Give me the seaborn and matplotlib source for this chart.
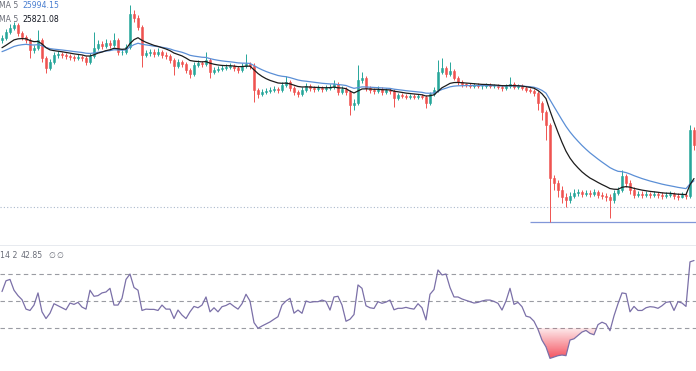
import numpy as np
import pandas as pd
import matplotlib
matplotlib.use("Agg")
import matplotlib.pyplot as plt
import seaborn as sns
from matplotlib.path import Path

# ---------------- data ----------------
prior_closes = [25820, 25840, 25850, 25830, 25880, 25900, 25920, 25950, 25980, 26000]

closes = [26020, 26080, 26120, 26150, 26070, 26030, 26000, 25900, 25920, 26000,
          25820, 25720, 25780, 25850, 25860, 25850, 25840, 25830, 25820, 25830,
          25820, 25780, 25840, 25920, 25960, 25940, 25970, 25950, 26000, 25880,
          25880, 25930, 26260, 26220, 26130, 25850, 25870, 25880, 25860, 25880,
          25850, 25840, 25800, 25740, 25780, 25760, 25700, 25660, 25750, 25770,
          25760, 25800, 25680, 25700, 25710, 25720, 25730, 25740, 25720, 25700,
          25740, 25760, 25740, 25500, 25460, 25480, 25490, 25500, 25510, 25500,
          25550, 25580, 25520, 25480, 25460, 25500, 25540, 25520, 25510, 25520,
          25510, 25520, 25530, 25560, 25480, 25510, 25480, 25350, 25370, 25600,
          25620, 25520, 25500, 25490, 25510, 25480, 25500, 25490, 25420, 25450,
          25440, 25430, 25440, 25430, 25440, 25430, 25370, 25460, 25500, 25680,
          25720, 25660, 25690, 25620, 25580, 25560, 25550, 25540, 25550, 25540,
          25540, 25550, 25540, 25540, 25530, 25520, 25540, 25560, 25530, 25540,
          25520, 25500, 25490, 25470, 25370, 25280, 25150, 24620, 24570, 24500,
          24430, 24400, 24440, 24470, 24480, 24460, 24470, 24460, 24480, 24450,
          24440, 24430, 24400, 24470, 24500, 24640, 24570, 24500, 24450, 24460,
          24450, 24460, 24450, 24460, 24450, 24440, 24450, 24460, 24440, 24430,
          24450, 24440, 25100, 24950]

highs = [26050, 26110, 26160, 26180, 26170, 26090, 26050, 26020, 25950, 26100,
         26020, 25840, 25810, 25880, 25890, 25880, 25870, 25860, 25850, 25860,
         25850, 25840, 25870, 26080, 26000, 25990, 26010, 26000, 26070, 26020,
         25910, 25960, 26350, 26300, 26250, 26150, 25900, 25910, 25910, 25920,
         25900, 25880, 25860, 25820, 25810, 25800, 25780, 25720, 25780, 25800,
         25790, 25880, 25820, 25730, 25740, 25750, 25760, 25770, 25760, 25740,
         25770, 25860, 25780, 25770, 25520, 25510, 25520, 25530, 25540, 25530,
         25580, 25640, 25600, 25540, 25500, 25530, 25570, 25560, 25540, 25550,
         25540, 25550, 25560, 25600, 25580, 25540, 25530, 25500, 25410, 25750,
         25680, 25640, 25540, 25520, 25540, 25530, 25520, 25520, 25510, 25470,
         25470, 25460, 25460, 25460, 25460, 25460, 25450, 25480, 25530, 25800,
         25820, 25740, 25780, 25710, 25640, 25600, 25570, 25570, 25570, 25570,
         25560, 25570, 25570, 25560, 25560, 25550, 25560, 25630, 25580, 25560,
         25560, 25540, 25520, 25510, 25490, 25390, 25300, 25170, 24650, 24600,
         24540, 24470, 24480, 24510, 24510, 24500, 24500, 24500, 24510, 24500,
         24480, 24470, 24460, 24500, 24530, 24700, 24660, 24600, 24530, 24490,
         24490, 24490, 24480, 24490, 24480, 24480, 24480, 24490, 24480, 24470,
         24480, 24480, 25150, 25130]

lows = [25970, 26000, 26060, 26100, 26040, 26000, 25970, 25820, 25870, 25900,
        25780, 25670, 25700, 25760, 25820, 25820, 25810, 25800, 25790, 25800,
        25790, 25750, 25760, 25820, 25900, 25910, 25920, 25920, 25930, 25850,
        25850, 25860, 25910, 26180, 26100, 25730, 25830, 25840, 25830, 25840,
        25820, 25810, 25770, 25650, 25720, 25730, 25670, 25620, 25640, 25730,
        25730, 25740, 25620, 25660, 25680, 25690, 25700, 25710, 25690, 25670,
        25680, 25720, 25710, 25380, 25420, 25440, 25460, 25470, 25480, 25470,
        25480, 25530, 25490, 25450, 25430, 25440, 25480, 25490, 25480, 25490,
        25480, 25490, 25500, 25510, 25450, 25460, 25450, 25250, 25300, 25350,
        25570, 25490, 25470, 25460, 25470, 25450, 25460, 25460, 25330, 25400,
        25420, 25410, 25410, 25410, 25410, 25410, 25320, 25350, 25440, 25480,
        25660, 25630, 25640, 25600, 25550, 25530, 25530, 25520, 25520, 25520,
        25510, 25520, 25520, 25520, 25510, 25490, 25500, 25520, 25510, 25510,
        25500, 25480, 25470, 25440, 25300, 25200, 25000, 24180, 24500, 24430,
        24370, 24330, 24370, 24420, 24440, 24430, 24440, 24430, 24440, 24420,
        24410, 24390, 24220, 24370, 24450, 24480, 24530, 24460, 24420, 24430,
        24420, 24430, 24420, 24430, 24420, 24410, 24420, 24430, 24410, 24400,
        24420, 24410, 24420, 24900]

rsi_values = [57, 65, 66, 58, 54, 51, 44, 43, 47, 56,
              42, 37, 41, 48, 46.5, 45, 43.5, 48.5, 47.5, 49,
              45.5, 44, 58, 53.5, 54, 56, 56.7, 59.4, 47, 47,
              52, 66, 70, 60, 58, 43, 44, 43.8, 43.8, 43,
              47, 44, 44, 37, 43.3, 39.6, 37, 42, 46, 45,
              47, 53, 42, 45, 42, 45.8, 46.7, 48.3, 46, 44,
              48, 55, 50, 34, 29.8, 31.5, 33, 34.5, 36.5, 38.4,
              47, 50, 52, 41, 43.3, 40.9, 50, 49, 49.5, 49.5,
              50.7, 49.7, 43.3, 53, 53.5, 47, 35, 36.5, 40, 61.9,
              59.4, 46.5, 45, 44.5, 49.5, 48.3, 49.2, 50.7, 43.5, 44.6,
              44.6, 45.3, 44.5, 44, 48, 45, 36, 55, 58.5, 73,
              69.3, 70, 60, 53, 53, 51.5, 50.5, 49.5, 48.5, 49,
              50, 50.7, 50.7, 49.7, 48.3, 43.3, 50, 59.4, 47.5, 49,
              45.8, 38.8, 38, 35, 29, 21, 16, 7.5, 8.5, 9.5,
              10, 9.5, 21.1, 22, 24.5, 27, 28.2, 26, 25, 32.5,
              34.3, 33, 28, 39, 48, 56, 55.5, 42, 46, 43,
              43, 45, 45.8, 45.5, 44.6, 46.5, 49, 49.5, 43, 49.5,
              48.5, 46, 79, 80]

rsi_levels = [70, 50, 30]
fast_ma_text = "25994.15"
slow_ma_text = "25821.08"
ma_name = "MA 5"
rsi_name = "14 2"
rsi_value_text = "42.85"
na_text = "\u2205"
dotted_level = 24330
low_line_level = 24180
low_line_start = 132

# ---------------- style ----------------
sns.set_theme(style="white")
plt.rcParams["font.family"] = ["DejaVu Sans"]

W, H = 696, 371
fig = plt.figure(figsize=(W / 100, H / 100), dpi=100)
fig.patch.set_facecolor("white")
ax = fig.add_axes([0, 1 - 245 / H, 1, 245 / H])
ax_r = fig.add_axes([0, 0, 1, 126 / H])

n0 = len(prior_closes)
all_close = pd.Series(prior_closes + closes, dtype=float)
ema_fast = all_close.ewm(span=12, adjust=False).mean().iloc[n0:].to_numpy()
ema_slow = all_close.ewm(span=24, adjust=False).mean().iloc[n0:].to_numpy()
opens = all_close.shift(1).iloc[n0:].to_numpy()
c = np.array(closes, dtype=float)
hi = np.maximum.reduce([np.array(highs, float), opens, c])
lo = np.minimum.reduce([np.array(lows, float), opens, c])
idx = np.arange(len(closes))

UP, DN = "#26a69a", "#ef5350"
cols = np.where(c >= opens, UP, DN)

ax.vlines(idx, lo, hi, colors=cols, lw=0.7, zorder=2)
body_bottom = np.minimum(opens, c)
body_h = np.abs(c - opens)
ax.bar(idx, body_h, bottom=body_bottom, width=0.55, color=cols,
       edgecolor=cols, linewidth=0.4, zorder=3)

sns.lineplot(x=idx, y=ema_slow, ax=ax, color="#5b8fd6", lw=0.9, zorder=4)
sns.lineplot(x=idx, y=ema_fast, ax=ax, color="#1c1c1c", lw=0.9, zorder=5)

ax.axhline(dotted_level, color="#aab8cc", ls=(0, (1, 2)), lw=0.8, zorder=1)
ax.hlines(low_line_level, xmin=low_line_start, xmax=len(closes), color="#8197d8",
          lw=0.9, zorder=1)

ax.set_xlim(-0.5, len(closes) - 0.5)
ax.set_ylim(23950, 26400)
ax.axis("off")

# ---------------- RSI ----------------
rsi = np.array(rsi_values, dtype=float)
for lvl in rsi_levels:
    ax_r.axhline(lvl, color="#9a9ca3", ls=(0, (4, 3)), lw=0.8, zorder=1)

poly = ax_r.fill_between(idx, rsi, 30, where=rsi < 30, interpolate=True,
                         facecolor="none", edgecolor="none")
paths = poly.get_paths()
if paths:
    compound = Path.make_compound_path(*paths)
    nrow = 100
    grad = np.zeros((nrow, 1, 4))
    grad[:, 0, 0] = 242 / 255
    grad[:, 0, 1] = 54 / 255
    grad[:, 0, 2] = 69 / 255
    grad[:, 0, 3] = np.linspace(0.08, 0.85, nrow)
    im = ax_r.imshow(grad, extent=[-0.5, len(closes), rsi.min(), 30],
                     aspect="auto", origin="upper", zorder=2)
    im.set_clip_path(compound, transform=ax_r.transData)

sns.lineplot(x=idx, y=rsi, ax=ax_r, color="#7b70a8", lw=0.9, zorder=3)
ax_r.axhline(91.2, color="#e3e6ec", lw=1.2)
ax_r.set_xlim(-0.5, len(closes) - 0.5)
ax_r.set_ylim(-1.85, 91.5)
ax_r.axis("off")

# ---------------- labels ----------------
def px(x, y):
    return x / W, 1 - y / H

fs = 5.6
grey = "#6a6d78"
fig.text(*px(-1, 5), ma_name, color=grey, fontsize=fs, va="center")
fig.text(*px(22, 5), fast_ma_text, color="#4a7fd0", fontsize=fs, va="center")
fig.text(*px(-1, 20), ma_name, color=grey, fontsize=fs, va="center")
fig.text(*px(22, 20), slow_ma_text, color="#131722", fontsize=fs, va="center")

fig.text(*px(0, 256), rsi_name, color=grey, fontsize=fs, va="center")
fig.text(*px(21, 256), rsi_value_text, color=grey, fontsize=fs, va="center")
fig.text(*px(48, 256), na_text, color=grey, fontsize=fs, va="center")
fig.text(*px(56, 256), na_text, color=grey, fontsize=fs, va="center")

fig.savefig("out.png", dpi=100, facecolor="white")
